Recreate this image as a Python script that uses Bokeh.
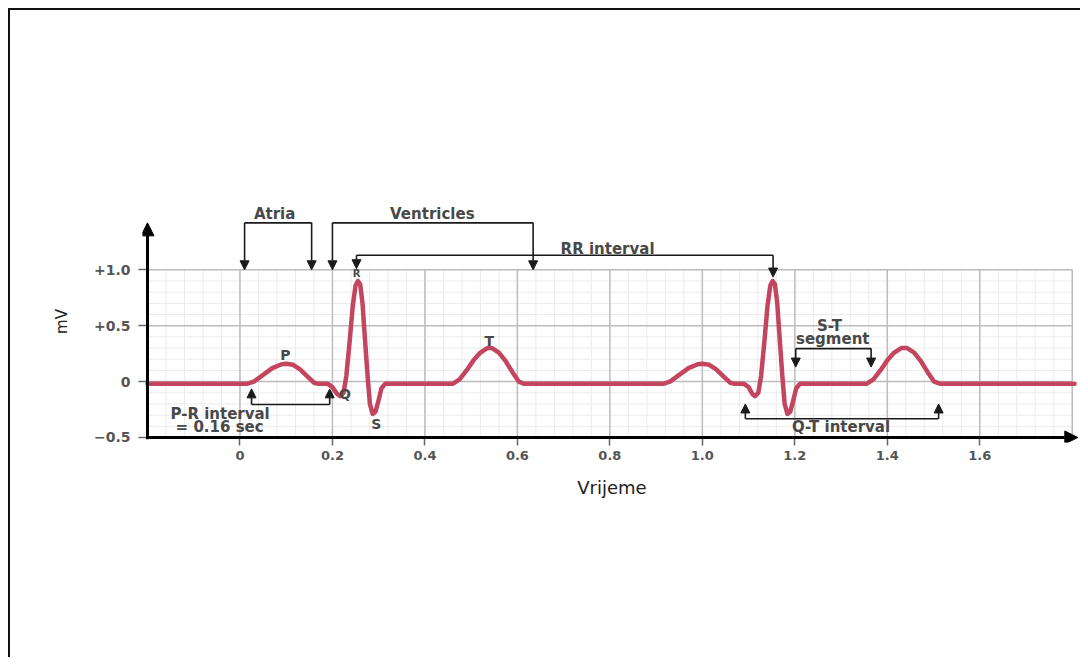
import numpy as np
from bokeh.plotting import figure
from bokeh.models import Range1d, FixedTicker, Arrow, NormalHead, Label
from bokeh.embed import file_html
from bokeh.resources import INLINE

# ---------------- data ----------------
# ECG trace: time (s) and voltage (mV)
ecg_t = [-0.2, 0.015, 0.03, 0.05, 0.07, 0.09, 0.10, 0.115, 0.13, 0.145, 0.16, 0.17,
         0.19, 0.20, 0.21, 0.217, 0.224, 0.23, 0.237, 0.244, 0.25, 0.255, 0.26, 0.265,
         0.27, 0.276, 0.281, 0.287, 0.293, 0.299, 0.306, 0.314,
         0.46, 0.475, 0.49, 0.505, 0.52, 0.535, 0.545, 0.56, 0.575, 0.59, 0.603, 0.615,
         0.915, 0.93, 0.95, 0.97, 0.99, 1.0, 1.015, 1.03, 1.045, 1.06, 1.07,
         1.09, 1.10, 1.108, 1.114, 1.121, 1.127, 1.134, 1.141, 1.147, 1.152, 1.157, 1.162,
         1.167, 1.173, 1.178, 1.184, 1.19, 1.196, 1.203, 1.211,
         1.355, 1.37, 1.385, 1.40, 1.415, 1.43, 1.443, 1.458, 1.473, 1.488, 1.501, 1.515,
         1.805]
ecg_mv = [-0.02, -0.02, 0.0, 0.06, 0.12, 0.155, 0.16, 0.15, 0.11, 0.05, -0.01, -0.02,
          -0.02, -0.05, -0.11, -0.13, -0.10, 0.05, 0.35, 0.68, 0.86, 0.90, 0.87, 0.70,
          0.40, 0.05, -0.20, -0.29, -0.27, -0.18, -0.06, -0.02,
          -0.02, 0.02, 0.10, 0.19, 0.26, 0.30, 0.30, 0.26, 0.18, 0.08, 0.0, -0.02,
          -0.02, 0.0, 0.06, 0.12, 0.155, 0.16, 0.15, 0.11, 0.05, -0.01, -0.02,
          -0.02, -0.05, -0.11, -0.13, -0.10, 0.05, 0.35, 0.68, 0.86, 0.90, 0.87, 0.70,
          0.40, 0.05, -0.20, -0.29, -0.27, -0.18, -0.06, -0.02,
          -0.02, 0.02, 0.10, 0.19, 0.26, 0.30, 0.30, 0.26, 0.18, 0.08, 0.0, -0.02,
          -0.02]

x_ticks = [0, 0.2, 0.4, 0.6, 0.8, 1.0, 1.2, 1.4, 1.6]
x_tick_labels = ["0", "0.2", "0.4", "0.6", "0.8", "1.0", "1.2", "1.4", "1.6"]
y_ticks = [-0.5, 0, 0.5, 1.0]
y_tick_labels = ["\u22120.5", "0", "+0.5", "+1.0"]

wave_names = ["P", "Q", "R", "S", "T"]
wave_x = [0.098, 0.227, 0.252, 0.295, 0.539]
wave_y = [0.235, -0.115, 0.965, -0.38, 0.365]

# brackets: left x, right x, bar y, left tip y, right tip y
bracket_names = ["Atria", "Ventricles", "RR interval", "P-R interval", "S-T segment", "Q-T interval"]
bracket_x0 = [0.01, 0.20, 0.252, 0.025, 1.202, 1.093]
bracket_x1 = [0.155, 0.634, 1.153, 0.194, 1.365, 1.511]
bracket_bar = [1.42, 1.42, 1.13, -0.205, 0.295, -0.333]
bracket_tip0 = [1.0, 1.0, 1.01, -0.065, 0.13, -0.20]
bracket_tip1 = [1.0, 1.0, 0.935, -0.065, 0.13, -0.20]

note_text = ["Atria", "Ventricles", "RR interval", "P-R interval", "= 0.16 sec",
             "S-T", "segment", "Q-T interval"]
note_x = [0.075, 0.416, 0.795, -0.043, -0.044, 1.275, 1.282, 1.30]
note_y = [1.50, 1.50, 1.19, -0.288, -0.405, 0.50, 0.385, -0.405]

# ---------------- figure ----------------
p = figure(width=1072, height=649, output_backend="svg", toolbar_location=None,
           x_range=Range1d(-0.2108, 1.82), y_range=Range1d(-0.5448, 1.62),
           min_border_left=132, min_border_right=1, min_border_top=190,
           min_border_bottom=217)
p.styles = {"margin-left": "8px", "margin-top": "8px",
            "border-left": "2px solid #111", "border-top": "2px solid #111"}
p.outline_line_color = None
p.xgrid.grid_line_color = None
p.ygrid.grid_line_color = None
p.background_fill_color = "white"
p.border_fill_color = "white"

# ECG paper grid (minor then major)
gx_minor = np.round(np.arange(-0.2, 1.8001, 0.04), 3)
gy_minor = np.round(np.arange(-0.5, 1.0001, 0.1), 3)
gx_major = np.round(np.arange(-0.2, 1.8001, 0.2), 3)
gy_major = np.round(np.arange(-0.5, 1.0001, 0.5), 3)
p.segment(x0=gx_minor, y0=[-0.5] * len(gx_minor), x1=gx_minor, y1=[1.0] * len(gx_minor),
          line_color="#ebebeb", line_width=1)
p.segment(x0=[-0.2] * len(gy_minor), y0=gy_minor, x1=[1.8] * len(gy_minor), y1=gy_minor,
          line_color="#ebebeb", line_width=1)
p.segment(x0=gx_major, y0=[-0.5] * len(gx_major), x1=gx_major, y1=[1.0] * len(gx_major),
          line_color="#bdbdbd", line_width=1.5)
p.segment(x0=[-0.2] * len(gy_major), y0=gy_major, x1=[1.8] * len(gy_major), y1=gy_major,
          line_color="#bdbdbd", line_width=1.5)

# ECG trace
p.line(ecg_t, ecg_mv, line_color="#c3455f", line_width=4.5, line_join="round", line_cap="round")

# axes drawn as thick arrows
ink = "#1a1a1a"
p.add_layout(Arrow(x_start=-0.2, y_start=-0.5, x_end=1.812, y_end=-0.5, line_width=3,
                   line_color="black",
                   end=NormalHead(size=13, fill_color="black", line_color="black")))
p.add_layout(Arrow(x_start=-0.2, y_start=-0.515, x_end=-0.2, y_end=1.42, line_width=3,
                   line_color="black",
                   end=NormalHead(size=13, fill_color="black", line_color="black")))

for ax in (p.xaxis[0], p.yaxis[0]):
    ax.axis_line_color = None
    ax.minor_tick_line_color = None
    ax.major_tick_in = 5
    ax.major_tick_line_color = "#666"
    ax.major_tick_line_width = 1.5
    ax.major_label_text_font = "DejaVu Sans"
    ax.major_label_text_font_style = "bold"
    ax.major_label_text_color = "#555"
    ax.axis_label_text_font = "DejaVu Sans"
    ax.axis_label_text_font_style = "normal"
    ax.axis_label_text_color = "#222"

p.xaxis.ticker = FixedTicker(ticks=x_ticks)
p.xaxis.major_label_overrides = dict(zip(x_ticks, x_tick_labels))
p.xaxis.major_label_text_font_size = "13px"
p.xaxis.major_tick_out = 3
p.xaxis.major_label_standoff = 5
p.xaxis.axis_label = "Vrijeme"
p.xaxis.axis_label_text_font_size = "18px"
p.xaxis.axis_label_standoff = 14

p.yaxis.ticker = FixedTicker(ticks=y_ticks)
p.yaxis.major_label_overrides = dict(zip(y_ticks, y_tick_labels))
p.yaxis.major_label_text_font_size = "14px"
p.yaxis.major_tick_out = 4
p.yaxis.major_label_standoff = 8
p.yaxis.axis_label = "mV"
p.yaxis.axis_label_text_font_size = "15px"
p.yaxis.axis_label_standoff = 20

# brackets with arrowheads
for x0, x1, yb, t0, t1 in zip(bracket_x0, bracket_x1, bracket_bar, bracket_tip0, bracket_tip1):
    p.segment(x0=[x0], y0=[yb], x1=[x1], y1=[yb], line_color=ink, line_width=1.6)
    for xx, tt in ((x0, t0), (x1, t1)):
        p.add_layout(Arrow(x_start=xx, y_start=yb, x_end=xx, y_end=tt, line_width=1.6,
                           line_color=ink,
                           end=NormalHead(size=9, fill_color=ink, line_color=ink)))

for t, x, y in zip(note_text, note_x, note_y):
    p.add_layout(Label(x=x, y=y, text=t, text_align="center", text_baseline="middle",
                       text_font="DejaVu Sans", text_font_size="15px",
                       text_font_style="bold", text_color="#484848"))

for t, x, y in zip(wave_names, wave_x, wave_y):
    p.add_layout(Label(x=x, y=y, text=t, text_align="center", text_baseline="middle",
                       text_font="DejaVu Sans",
                       text_font_size="10px" if t == "R" else "14px",
                       text_font_style="bold", text_color="#484848"))

open("out.html", "w").write(file_html(p, INLINE))
